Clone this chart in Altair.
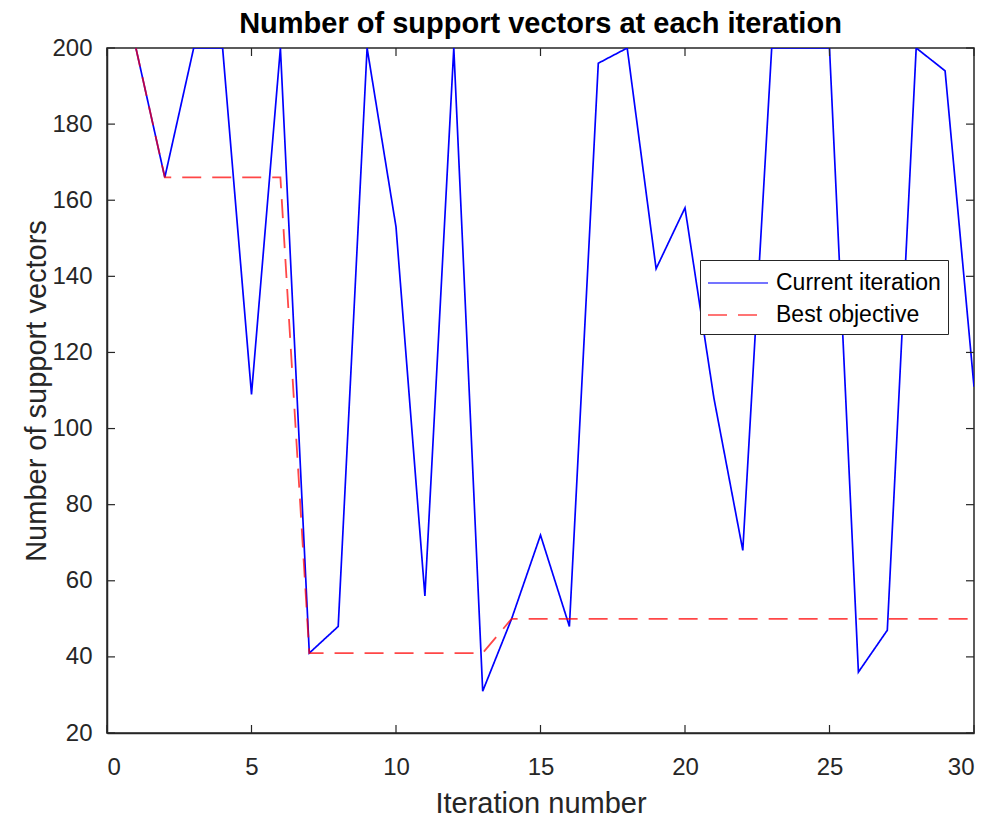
import altair as alt
import pandas as pd

iterations = list(range(1, 31))
current_iteration = [200, 166, 200, 200, 109, 200, 41, 48, 200, 153,
                     56, 200, 31, 50, 72, 48, 196, 200, 142, 158,
                     108, 68, 200, 200, 200, 36, 47, 200, 194, 111]
best_objective = [200, 166, 166, 166, 166, 166, 41, 41, 41, 41,
                  41, 41, 41, 50, 50, 50, 50, 50, 50, 50,
                  50, 50, 50, 50, 50, 50, 50, 50, 50, 50]
series_names = ["Current iteration", "Best objective"]
x_ticks = [0, 5, 10, 15, 20, 25, 30]
y_ticks = [20, 40, 60, 80, 100, 120, 140, 160, 180, 200]

rows = []
for i, v in zip(iterations, current_iteration):
    rows.append({"iter": i, "value": v, "series": series_names[0]})
for i, v in zip(iterations, best_objective):
    rows.append({"iter": i, "value": v, "series": series_names[1]})
df = pd.DataFrame(rows)

W, H = 867, 685
TXT = "#262626"
FONT = "Liberation Sans"

xs = alt.Scale(domain=[0, 30], nice=False, zero=False)
ys = alt.Scale(domain=[20, 200], nice=False, zero=False)
color_scale = alt.Scale(domain=series_names, range=["#0000ff", "#ff0000"])
dash_scale = alt.Scale(domain=series_names, range=[[1, 0], [19, 11]])

base = alt.Chart(df)

cur = base.transform_filter(alt.datum.series == series_names[0]).mark_line(
    strokeWidth=1.7, clip=True
).encode(
    x=alt.X("iter:Q", scale=xs,
            axis=alt.Axis(values=x_ticks, title="Iteration number", ticks=False,
                          labelPadding=22, titlePadding=10)),
    y=alt.Y("value:Q", scale=ys,
            axis=alt.Axis(values=y_ticks, title="Number of support vectors", ticks=False,
                          labelPadding=15, titlePadding=0)),
    color=alt.Color("series:N", scale=color_scale, legend=alt.Legend(title=None)),
    strokeDash=alt.StrokeDash("series:N", scale=dash_scale, legend=alt.Legend(title=None)),
)

best = base.transform_filter(alt.datum.series == series_names[1]).mark_line(
    strokeWidth=1.8, opacity=0.72, clip=True
).encode(
    x=alt.X("iter:Q", scale=xs),
    y=alt.Y("value:Q", scale=ys),
    color=alt.Color("series:N", scale=color_scale, legend=alt.Legend(title=None)),
    strokeDash=alt.StrokeDash("series:N", scale=dash_scale, legend=alt.Legend(title=None)),
)

xt = pd.DataFrame({"t": x_ticks})
yt = pd.DataFrame({"t": y_ticks})
tick_len = 8
tx_bottom = alt.Chart(xt).mark_rule(color=TXT, strokeWidth=1.2).encode(
    x=alt.X("t:Q", scale=xs), y=alt.value(H), y2=alt.value(H - tick_len))
tx_top = alt.Chart(xt).mark_rule(color=TXT, strokeWidth=1.2).encode(
    x=alt.X("t:Q", scale=xs), y=alt.value(0), y2=alt.value(tick_len))
ty_left = alt.Chart(yt).mark_rule(color=TXT, strokeWidth=1.2).encode(
    y=alt.Y("t:Q", scale=ys), x=alt.value(0), x2=alt.value(tick_len))
ty_right = alt.Chart(yt).mark_rule(color=TXT, strokeWidth=1.2).encode(
    y=alt.Y("t:Q", scale=ys), x=alt.value(W), x2=alt.value(W - tick_len))

chart = alt.layer(cur, best, tx_bottom, tx_top, ty_left, ty_right).properties(
    width=W, height=H,
    title=alt.Title("Number of support vectors at each iteration", fontSize=29,
                    font=FONT, fontWeight="bold", color="#000000", offset=0, dy=3),
    autosize=alt.AutoSizeParams(type="none"),
    padding={"left": 99, "top": 40, "right": 9, "bottom": 84},
).configure_view(
    stroke=TXT, strokeWidth=1.5
).configure_axis(
    domainColor=TXT, domainWidth=1.5, grid=False,
    labelFont=FONT, labelFontSize=24, labelColor=TXT,
    titleFont=FONT, titleFontSize=29, titleColor=TXT, titleFontWeight="normal",
).configure_legend(
    orient="none", legendX=593, legendY=212,
    strokeColor="#262626", fillColor="#ffffff", padding=7,
    labelFont=FONT, labelFontSize=23, labelColor="#000000", labelLimit=400,
    symbolType="M-1,0H3", symbolSize=900, symbolStrokeWidth=1.6,
    rowPadding=4, labelOffset=37,
)

chart.save("out.html", embed_options={"renderer": "svg", "actions": False})
